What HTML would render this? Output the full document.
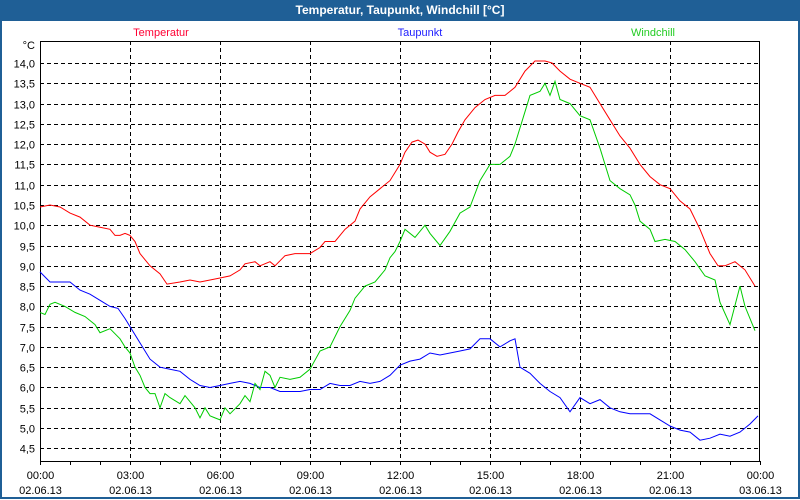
<!DOCTYPE html>
<html><head><meta charset="utf-8"><style>
body{margin:0;width:800px;height:500px;overflow:hidden;background:#fff;font-family:"Liberation Sans",sans-serif}
#win{position:absolute;left:0;top:0;width:796px;height:497px;border:2px solid #1f5f96;border-top:none;background:#fff}
#title{position:absolute;left:0;top:0;width:800px;height:21px;background:#1f5f96;color:#fff;font-weight:bold;font-size:12px;text-align:center;line-height:21px}
svg{position:absolute;left:0;top:0}
</style></head><body>
<div id="win"></div>
<div id="title">Temperatur, Taupunkt, Windchill [°C]</div>
<svg id="c" width="800" height="500"></svg>
<script>
const yTicks=[14.0,13.5,13.0,12.5,12.0,11.5,11.0,10.5,10.0,9.5,9.0,8.5,8.0,7.5,7.0,6.5,6.0,5.5,5.0,4.5];
const xTickTimes=["00:00","03:00","06:00","09:00","12:00","15:00","18:00","21:00","00:00"];
const xTickDates=["02.06.13","02.06.13","02.06.13","02.06.13","02.06.13","02.06.13","02.06.13","02.06.13","03.06.13"];
const tempMin=[0,20,40,60,80,100,120,140,150,160,170,180,190,200,220,240,254,280,300,320,340,360,380,400,410,430,440,460,470,490,510,540,560,570,590,610,630,640,660,680,700,720,730,744,756,770,780,794,810,824,836,850,870,890,910,930,950,970,990,1010,1024,1040,1060,1080,1100,1120,1140,1160,1180,1200,1220,1240,1260,1280,1300,1320,1340,1356,1370,1390,1410,1430];
const tempVal=[10.45,10.5,10.45,10.3,10.2,10.0,9.95,9.9,9.75,9.75,9.8,9.75,9.6,9.3,9.0,8.8,8.55,8.6,8.65,8.6,8.65,8.7,8.75,8.9,9.05,9.1,9.0,9.1,9.0,9.25,9.3,9.3,9.45,9.6,9.6,9.9,10.1,10.4,10.7,10.9,11.1,11.5,11.8,12.05,12.1,12.0,11.8,11.7,11.75,12.0,12.3,12.6,12.9,13.1,13.2,13.2,13.4,13.8,14.05,14.05,14.0,13.8,13.6,13.5,13.4,13.0,12.6,12.2,11.9,11.5,11.2,11.0,10.9,10.6,10.4,9.9,9.3,9.0,9.0,9.1,8.9,8.5];
const dewMin=[0,20,40,60,80,100,120,140,156,170,180,200,220,240,260,280,300,320,340,360,380,400,420,440,460,480,500,520,540,560,580,600,620,640,660,680,700,720,740,760,780,800,820,840,860,880,900,920,940,950,960,980,1000,1020,1040,1060,1080,1100,1120,1140,1160,1180,1200,1220,1240,1260,1280,1300,1320,1340,1360,1380,1400,1420,1436];
const dewVal=[8.85,8.6,8.6,8.6,8.4,8.3,8.15,8.0,7.95,7.7,7.5,7.1,6.7,6.5,6.45,6.4,6.2,6.05,6.0,6.05,6.1,6.15,6.1,6.0,6.0,5.9,5.9,5.9,5.95,5.95,6.1,6.05,6.05,6.15,6.1,6.15,6.3,6.55,6.65,6.7,6.85,6.8,6.85,6.9,6.95,7.2,7.2,7.0,7.15,7.2,6.5,6.35,6.1,5.9,5.75,5.4,5.75,5.6,5.7,5.5,5.4,5.35,5.35,5.35,5.2,5.05,4.95,4.9,4.7,4.75,4.85,4.8,4.9,5.1,5.3];
const windMin=[0,10,20,30,50,70,90,110,120,140,160,170,180,190,200,210,220,230,240,250,260,280,290,310,320,330,340,350,360,370,380,400,410,420,430,440,450,460,470,480,500,520,540,560,580,600,620,630,650,670,690,700,710,720,730,750,770,780,800,820,840,860,880,890,900,920,940,950,960,970,980,1000,1010,1020,1030,1040,1060,1080,1100,1120,1140,1160,1180,1190,1200,1220,1230,1250,1270,1290,1310,1330,1350,1360,1380,1400,1410,1430];
const windVal=[7.85,7.8,8.05,8.1,8.0,7.85,7.75,7.55,7.35,7.45,7.2,7.0,6.85,6.5,6.3,6.0,5.85,5.85,5.5,5.85,5.75,5.6,5.8,5.5,5.25,5.5,5.3,5.25,5.2,5.5,5.35,5.6,5.8,5.65,6.1,5.95,6.4,6.3,6.0,6.25,6.2,6.25,6.45,6.9,7.0,7.5,7.9,8.2,8.5,8.6,8.9,9.2,9.35,9.6,9.9,9.7,10.0,9.8,9.5,9.85,10.3,10.45,11.1,11.3,11.5,11.5,11.7,12.0,12.4,12.8,13.2,13.3,13.5,13.2,13.55,13.1,13.0,12.7,12.6,11.9,11.1,10.9,10.75,10.5,10.1,9.9,9.6,9.65,9.6,9.4,9.1,8.75,8.65,8.1,7.55,8.5,8.0,7.4];
</script>
<script>
const svg=document.getElementById('c');const NS='http://www.w3.org/2000/svg';
const L=40,R=760,T=41,B=461;
function X(m){return L+(R-L)*m/1440;}
function Y(v){return 63+(14-v)*40.56;}
function mk(t,a,p){const e=document.createElementNS(NS,t);for(const k in a)e.setAttribute(k,a[k]);(p||svg).appendChild(e);return e;}
const grid=mk('g',{});


yTicks.forEach(v=>{const y=Math.round(Y(v))+0.5;
const l=mk('line',{x1:L,x2:R,y1:y,y2:y,stroke:'#000','stroke-dasharray':'4,3'},grid);


const t=mk('text',{x:35,y:y+4,'text-anchor':'end','font-size':'11','fill':'#000'});
t.textContent=v.toFixed(1).replace('.',',');

});
xTickTimes.forEach((s,i)=>{const x=Math.round(X(i*180))+0.5;
if(i>0&&i<8){const l=mk('line',{x1:x,x2:x,y1:T,y2:B,stroke:'#000','stroke-dasharray':'4,3'},grid);

}
const t=mk('text',{x:x,y:479,'text-anchor':'middle','font-size':'11'});t.textContent=s;


const d=mk('text',{x:x,y:494,'text-anchor':'middle','font-size':'11'});d.textContent=xTickDates[i];

});
for(let h=0;h<=24;h++){const x=Math.round(X(h*60))+0.5;const tk=mk('line',{x1:x,x2:x,y1:B,y2:B+4,stroke:'#000'});

}
const frame=mk('rect',{x:L+0.5,y:T+0.5,width:R-L-1,height:B-T,fill:'none',stroke:'#000'});


const unit=mk('text',{x:35,y:49,'text-anchor':'end','font-size':'11'});unit.textContent='°C';


function line(ms,vs,col,name){const n=Math.min(ms.length,vs.length);let d='';
for(let i=0;i<n;i++)d+=(i?'L':'M')+X(ms[i]).toFixed(1)+','+Y(vs[i]).toFixed(1);
const p=mk('path',{d:d,fill:'none',stroke:col,'stroke-width':'1'});

}
line(dewMin,dewVal,'#0000ff','dewpoint-line');
line(windMin,windVal,'#00cc00','windchill-line');
line(tempMin,tempVal,'#ff0000','temperature-line');
[['Temperatur',161,'#ff0033','legend-temperatur'],['Taupunkt',420,'#2020ff','legend-taupunkt'],['Windchill',653,'#22cc22','legend-windchill']].forEach(a=>{
const t=mk('text',{x:a[1],y:36,'text-anchor':'middle','font-size':'11',fill:a[2]});t.textContent=a[0];

});
</script>
</body></html>
